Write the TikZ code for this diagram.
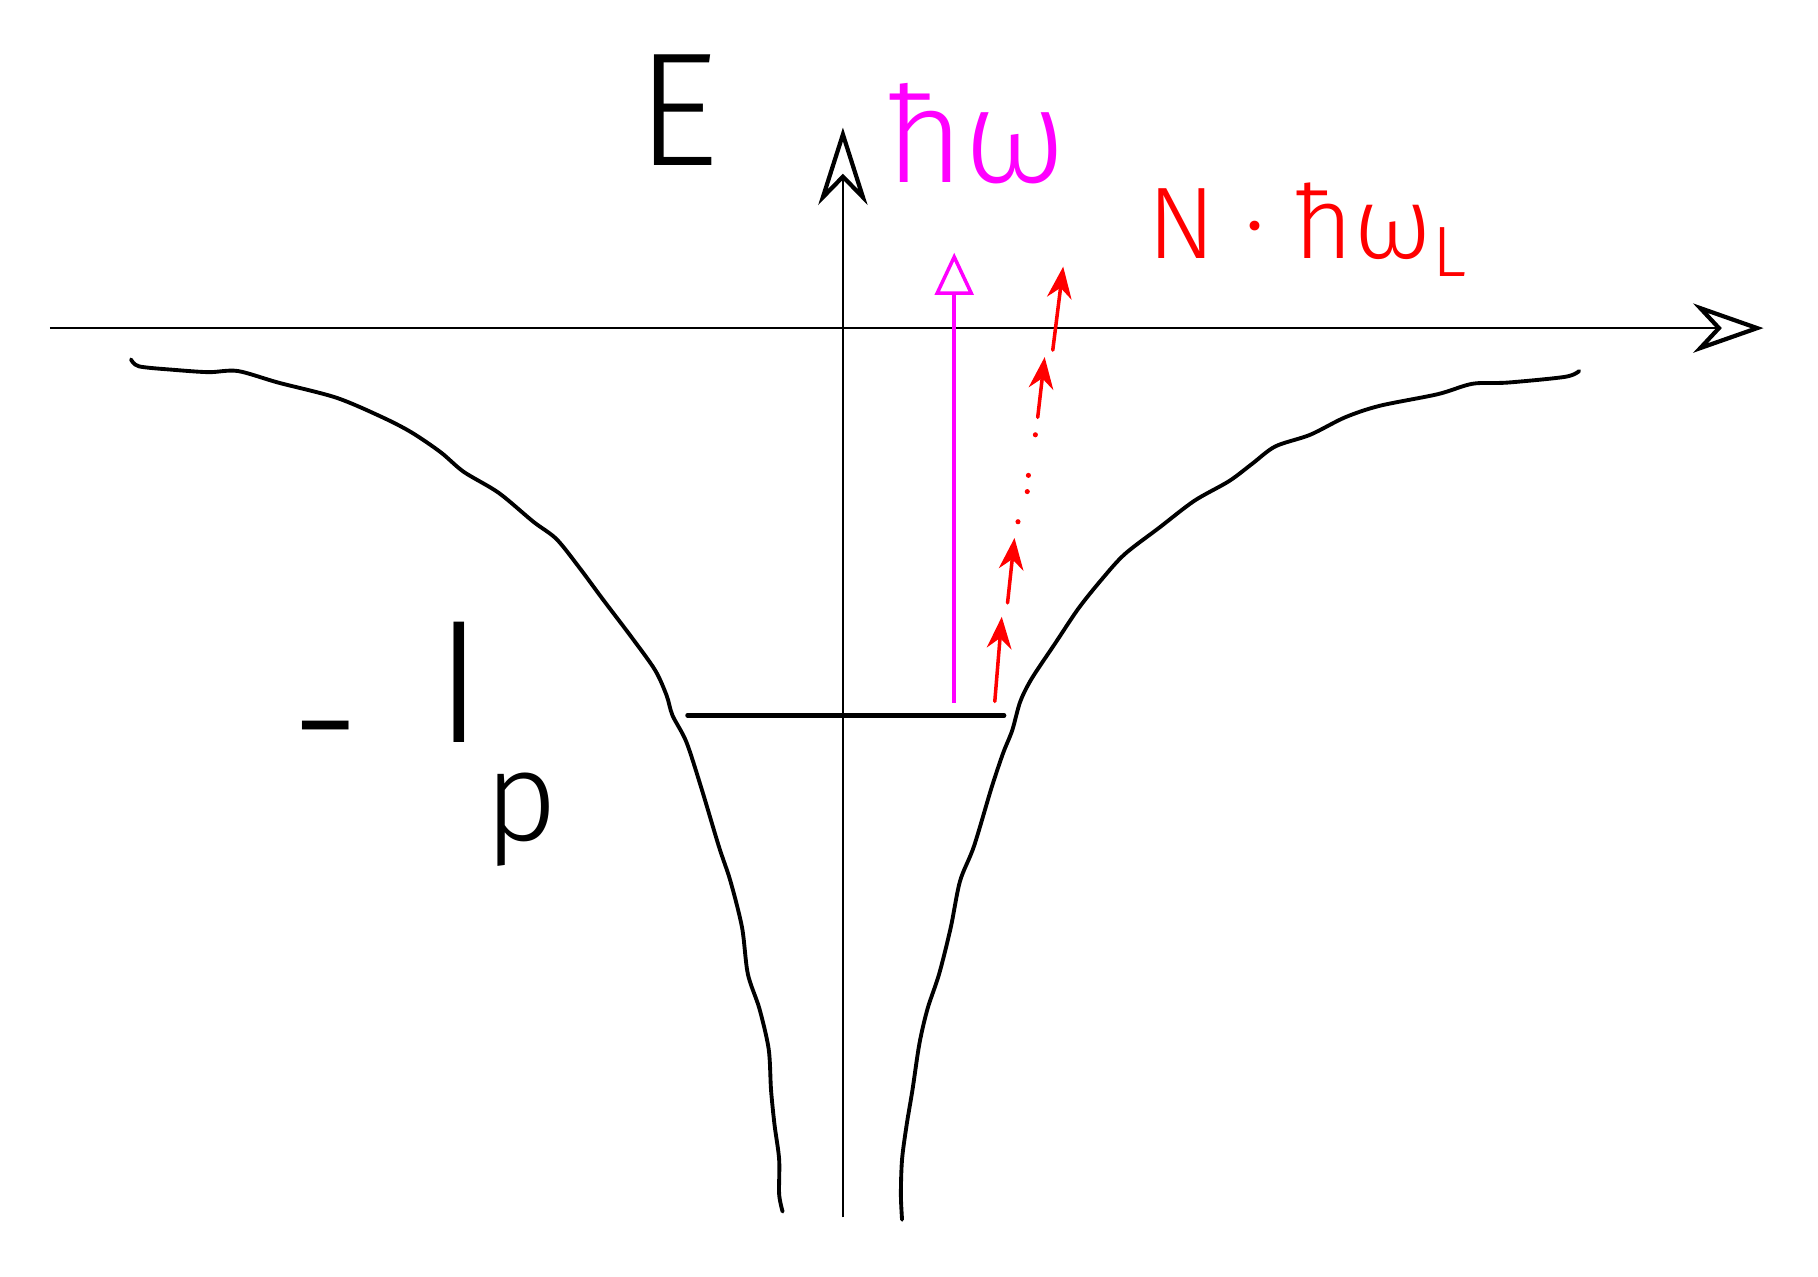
\documentclass[tikz,border=0pt]{standalone}
\usepackage{fontspec}
\setmainfont{Fira Sans}[UprightFont={* Light}]
\usetikzlibrary{arrows.meta}
\definecolor{mag}{RGB}{255,0,255}
\definecolor{rd}{RGB}{255,0,0}
\tikzset{
  axisline/.style={line width=0.75pt, black},
  wellline/.style={line width=1.1pt, black, line join=round, line cap=round},
  levelline/.style={line width=1.3pt, black, line cap=round},
  photon/.style={line width=1pt, mag, -{Triangle[open,length=12pt,width=11pt,line width=1pt]}},
  lphoton/.style={line width=1pt, rd, line cap=round, -{Stealth[length=9pt,width=7pt]}},
  lbl/.style={inner sep=0pt, anchor=center}
}
\begin{document}
\begin{tikzpicture}[x=0.011594cm,y=-0.011594cm]
\useasboundingbox (0,0) rectangle (1568,1101);
% axes
\coordinate (xL) at (43,283);
\coordinate (xR) at (1521,283);
\coordinate (yB) at (727,1050);
\coordinate (yT) at (727,110);
\draw[axisline,-{Stealth[open,length=20pt,width=14pt,line width=1.2pt]}] (xL) -- (xR);
\draw[axisline,-{Stealth[open,length=22pt,width=14pt,line width=1.2pt]}] (yB) -- (yT);
% labels
\node[lbl] (E) at (585,95) {\fontsize{46}{50}\selectfont E};
\node[lbl,text=mag] (hw) at (842,115) {\fontsize{38}{46}\selectfont ħω};
\node[lbl,text=rd] (Nhw) at (1128,198) {\fontsize{29}{36}\selectfont N · ħω\textsubscript{L}};
\node[inner sep=0pt, anchor=base west] (Ip) at (250,640) {\fontsize{50}{56}\selectfont \raisebox{-0.22em}{-}\kern 21pt I\raisebox{-0.56em}{\fontsize{36}{40}\selectfont p}};
% potential well
\draw[wellline] plot[smooth,tension=0.5] coordinates {
 (113,310) (120,316) (150,319) (180,321) (205,320) (240,330) (290,343) (330,360)
 (355,373) (380,390) (400,407) (430,425) (460,450) (480,465) (500,490) (520,517)
 (545,550) (565,578) (575,600) (580,617) (592,640) (605,680) (620,730) (630,760)
 (640,800) (645,840) (655,870) (663,905) (665,940) (668,970) (672,1000) (672,1030) (675,1045)};
\draw[wellline] plot[smooth,tension=0.5] coordinates {
 (1362,320) (1350,325) (1300,330) (1270,331) (1240,340) (1190,350) (1160,360) (1130,375)
 (1100,385) (1080,400) (1060,415) (1030,432) (1000,455) (970,478) (950,500) (930,525)
 (910,555) (890,585) (880,605) (873,630) (865,650) (855,680) (840,730) (828,760)
 (820,800) (810,840) (800,870) (793,900) (787,940) (782,970) (778,1000) (777,1030) (778,1052)};
% bound level
\coordinate (lvL) at (593,617);
\coordinate (lvR) at (866,617);
\draw[levelline] (lvL) -- (lvR);
% single photon (magenta)
\coordinate (m0) at (823,606);
\coordinate (m1) at (823,218);
\draw[photon] (m0) -- (m1);
% multiphoton ladder (red)
\coordinate (r1a) at (858,605); \coordinate (r1b) at (864,532);
\coordinate (r2a) at (869,520); \coordinate (r2b) at (875,464);
\coordinate (r3a) at (895,360); \coordinate (r3b) at (901,308);
\coordinate (r4a) at (908,302); \coordinate (r4b) at (917,230);
\draw[lphoton] (r1a) -- (r1b);
\draw[lphoton] (r2a) -- (r2b);
\draw[lphoton] (r3a) -- (r3b);
\draw[lphoton] (r4a) -- (r4b);
\foreach \p in {(878,450),(886,424),(887,410),(893,375)}
  \fill[rd] \p circle (2.2);
\end{tikzpicture}
\end{document}
